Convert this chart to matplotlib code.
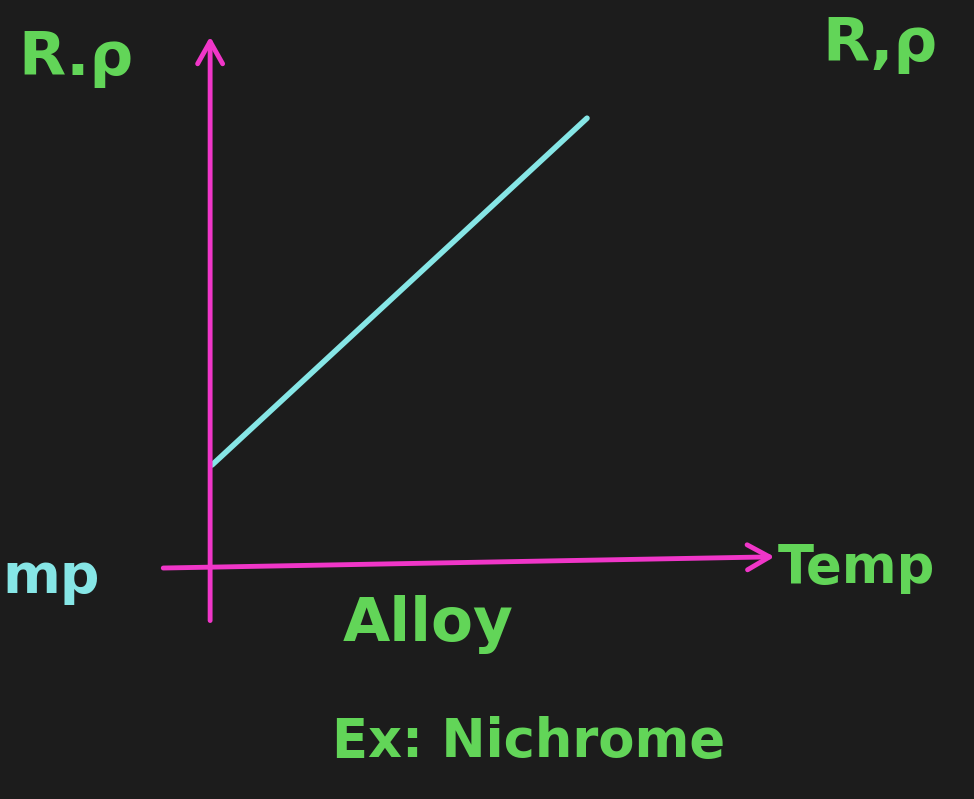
import matplotlib
matplotlib.use("Agg")
import matplotlib.pyplot as plt

# Resistance / resistivity of an alloy rises linearly with temperature
temp = [0.0, 10.0]
resistance = [2.0, 8.8]

BG = "#1c1c1c"
PINK = "#f036c8"
GREEN = "#62d558"
CYAN = "#86e6e6"

W, H = 974, 799
fig = plt.figure(figsize=(W / 100, H / 100), dpi=100, facecolor=BG)

# Main axes: origin at the crossing of the two hand-drawn axes
x0, y0 = 212, 567
px_per_x, px_per_y = 37.5, 51.0
xlim = (0, 10)
ylim = (0, 10)
ax = fig.add_axes([x0 / W, (H - y0) / H,
                   (xlim[1] - xlim[0]) * px_per_x / W,
                   (ylim[1] - ylim[0]) * px_per_y / H])
ax.set_xlim(*xlim)
ax.set_ylim(*ylim)
ax.set_facecolor(BG)
ax.axis("off")

# The data line
ax.plot(temp, resistance, color=CYAN, lw=4, solid_capstyle="round", clip_on=False)

# Hand-drawn axes with open arrowheads
arrow_kw = dict(arrowstyle="->,head_length=1.6,head_width=0.9", color=PINK,
                lw=3.5, shrinkA=0, shrinkB=0)
ax.annotate("", xy=(15.0, 0.2), xytext=(-1.3, -0.02),
            arrowprops=arrow_kw, annotation_clip=False)
ax.annotate("", xy=(-0.05, 10.4), xytext=(-0.05, -1.05),
            arrowprops=arrow_kw, annotation_clip=False)

# Labels, placed in figure pixels
def label(x, y, s, color=GREEN, size=34, **kw):
    fig.text(x / W, 1 - y / H, s, color=color, fontsize=size,
             fontweight="bold", ha="left", va="center", **kw)

label(18, 58, "R.ρ", size=44)
label(822, 45, "R,ρ", size=44)
label(2, 578, "mp", color=CYAN, size=40)
label(778, 568, "Temp", size=38)
label(343, 625, "Alloy", size=44)
label(332, 742, "Ex: Nichrome", size=38)

fig.savefig("out.png", dpi=100, facecolor=BG)
